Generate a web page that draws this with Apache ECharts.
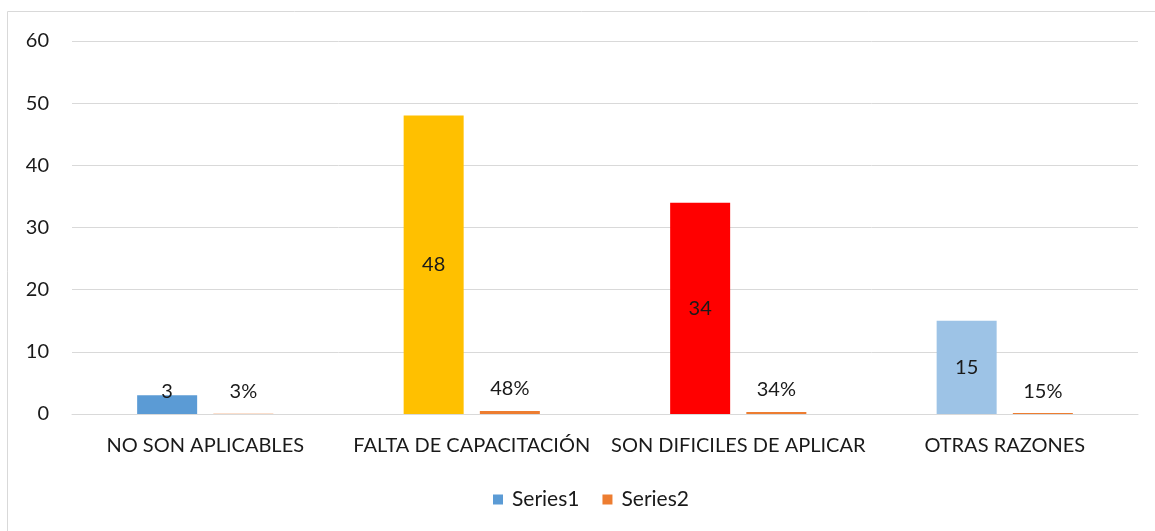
<!DOCTYPE html>
<html><head><meta charset="utf-8">
<script src="https://cdn.jsdelivr.net/npm/echarts@6/dist/echarts.min.js"></script>
<style>html,body{margin:0;padding:0;background:#fff}#c{width:1155px;height:531px}</style>
</head><body><div id="c"></div>
<script>
const categories = ["NO SON APLICABLES", "FALTA DE CAPACITACIÓN", "SON DIFICILES DE APLICAR", "OTRAS RAZONES"];
const series1 = [3, 48, 34, 15];
const series2 = [0.03, 0.48, 0.34, 0.15];
const series2Labels = ["3%", "48%", "34%", "15%"];
const barColors = ["#5B9BD5", "#FFC000", "#FF0000", "#9DC3E6"];
const yTicks = [0, 10, 20, 30, 40, 50, 60];

const FONT = "Lato";
const FS = 20;
const chart = echarts.init(document.getElementById('c'));
chart.setOption({
  animation: false,
  textStyle: {fontFamily: FONT},
  graphic: [{type:'rect', shape:{x:7.5,y:11.5,width:1200,height:600}, style:{fill:'none', stroke:'#d9d9d9', lineWidth:1}, silent:true, z:-1}],
  grid: {left: 72, right: 17, top: 41, bottom: 117},
  legend: {
    top: 484, left: 488, itemWidth: 10, itemHeight: 10, itemGap: 23,
    icon: 'rect',
    textStyle: {fontFamily: FONT, fontSize: 21, color: '#1a1a1a', padding:[0,0,0,4]},
    data: [{name:'Series1', itemStyle:{color:'#5B9BD5'}}, {name:'Series2', itemStyle:{color:'#ED7D31'}}]
  },
  xAxis: {
    type: 'category', data: categories,
    axisLine: {lineStyle: {color: '#d9d9d9', width: 1}},
    axisTick: {show: false},
    axisLabel: {fontFamily: FONT, fontSize: FS, color: '#1a1a1a', margin: 22, interval: 0}
  },
  yAxis: {
    type: 'value', min: 0, max: 60, interval: 10,
    axisLine: {show: false}, axisTick: {show: false},
    splitLine: {lineStyle: {color: '#d9d9d9', width: 1}},
    axisLabel: {fontFamily: FONT, fontSize: FS, color: '#1a1a1a', margin: 23,
      formatter: v => yTicks.includes(v) ? String(v) : ''}
  },
  series: [
    {
      name: 'Series1', type: 'bar', barWidth: 60, barGap: '27%', barCategoryGap: '49%',
      data: series1.map((v, i) => {
        const d = {value: v, itemStyle: {color: barColors[i]}};
        if (v < 5) d.label = {position: 'top', distance: -6};
        return d;
      }),
      label: {show: true, position: 'inside', fontFamily: FONT, fontSize: FS, color: '#1a1a1a'}
    },
    {
      name: 'Series2', type: 'bar', barWidth: 60,
      itemStyle: {color: '#ED7D31'},
      data: series2,
      label: {show: true, position: 'top', distance: 12, fontFamily: FONT, fontSize: FS, color: '#1a1a1a',
        formatter: p => series2Labels[p.dataIndex]}
    }
  ]
});
</script></body></html>
